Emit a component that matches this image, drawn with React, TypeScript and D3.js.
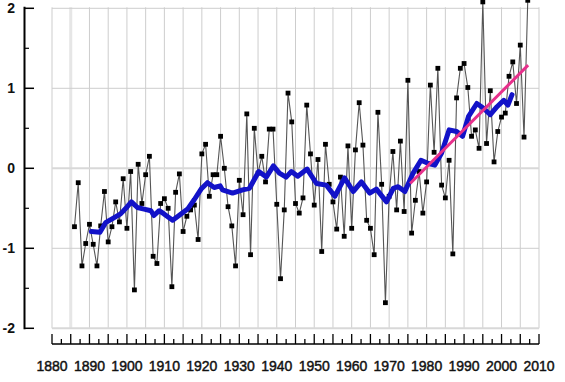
import React from 'react';
import * as d3 from 'd3';

const W = 565;
const H = 382;

const firstYear = 1886;
const annualValues = [
  -0.73, -0.18, -1.22, -0.94, -0.70, -0.95, -1.22, -0.72, -0.29, -0.92,
  -0.73, -0.42, -0.67, -0.13, -0.75, -0.04, -1.52, 0.05, -0.44, -0.08,
  0.15, -1.10, -1.19, -0.44, -0.38, -0.50, -1.48, -0.30, -0.07, -0.79,
  -0.60, -0.52, -0.46, -0.89, 0.18, 0.30, -0.35, -0.08, -0.08, 0.40,
  0.00, -0.48, -0.72, -1.22, -0.15, -0.58, 0.68, -1.08, 0.50, -0.06,
  0.15, -0.17, 0.49, 0.49, -0.45, -1.38, -0.52, 0.94, 0.58, -0.44,
  -0.56, -0.37, 0.79, 0.18, -0.46, 0.11, -1.04, 0.30, -0.20, -0.42,
  -0.76, -0.11, -0.85, 0.28, -0.75, 0.23, 0.82, 0.29, -0.65, -0.75,
  -1.08, 0.70, -0.20, -1.68, -0.35, 0.21, -0.52, 0.34, -0.54, 1.10,
  -0.81, -0.40, -0.04, -0.56, -0.17, 1.04, 0.20, 1.25, -0.21, -0.37,
  0.10, -1.07, 0.88, 1.25, 1.31, 1.01, 0.40, 0.48, 0.25, 2.08,
  0.31, 0.97, 0.08, 0.46, 0.64, 0.69, 1.15, 1.33, 0.81, 1.54,
  0.39, 2.10,
];

const smoothYears = [
  1890.5, 1892.8, 1894.3, 1896.5, 1898.3, 1900.1, 1901.2, 1902.8, 1904.6, 1906.4,
  1907.2, 1908.6, 1909.9, 1912.2, 1913.9, 1916.2, 1918.0, 1919.8, 1921.5, 1923.3,
  1924.9, 1925.5, 1928.2, 1930.9, 1932.7, 1935.2, 1937.2, 1939.1, 1940.7, 1942.5,
  1943.9, 1945.6, 1948.1, 1950.6, 1953.2, 1955.5, 1958.1, 1960.4, 1962.6, 1964.8,
  1966.6, 1969.3, 1971.1, 1972.4, 1974.2, 1976.4, 1978.5, 1980.5, 1982.2, 1984.0,
  1986.0, 1988.0, 1989.6, 1991.2, 1993.4, 1995.2, 1997.0, 1998.8, 2000.6, 2001.7,
  2002.8,
];
const smoothValues = [
  -0.79, -0.80, -0.68, -0.62, -0.57, -0.48, -0.42, -0.49, -0.51, -0.53,
  -0.59, -0.53, -0.57, -0.65, -0.59, -0.51, -0.39, -0.26, -0.18, -0.24,
  -0.22, -0.27, -0.31, -0.27, -0.25, -0.04, -0.11, 0.03, -0.06, -0.11,
  -0.04, -0.10, -0.01, -0.19, -0.21, -0.35, -0.12, -0.29, -0.17, -0.31,
  -0.26, -0.42, -0.25, -0.23, -0.29, -0.06, 0.10, 0.06, 0.04, 0.19,
  0.48, 0.46, 0.40, 0.65, 0.81, 0.75, 0.67, 0.77, 0.85, 0.79,
  0.92,
];

const trendYears = [1975.6, 2007.1];
const trendValues = [-0.19, 1.29];

const xTickLabels = [1880, 1890, 1900, 1910, 1920, 1930, 1940, 1950, 1960, 1970, 1980, 1990, 2000, 2010];
const yTickLabels = [2, 1, 0, -1, -2];

export default function App() {
  const x = d3.scaleLinear().domain([1880, 2010]).range([52, 539]);
  const y = d3.scaleLinear().domain([-2, 2]).range([328.3, 8.3]);

  const annual = annualValues.map((v, i) => ({ yr: firstYear + i, v }));
  const smooth = smoothYears.map((yr, i) => ({ yr, v: smoothValues[i] }));
  const trend = trendYears.map((yr, i) => ({ yr, v: trendValues[i] }));

  const line = d3
    .line<{ yr: number; v: number }>()
    .x((d) => x(d.yr))
    .y((d) => y(d.v));

  const gridYears = d3.range(1880, 2011, 5);
  const tickYears = d3.range(1880, 2010.1, 2.5);
  const yMinor = [1.5, 0.5, -0.5, -1.5];

  const axisY = 344;
  const [gx0, gx1] = x.range();
  const yTop = y(2) - 1;
  const yBot = y(-2);

  return (
    <svg
      width={W}
      height={H}
      style={{ position: 'absolute', left: 0, top: 0, background: '#fff' }}
      fontFamily="'Liberation Sans', Arial, sans-serif"
    >
      <rect x={0} y={0} width={W} height={H} fill="#fff" />
      {/* vertical grid */}
      {gridYears.map((yr) => (
        <line
          key={'gv' + yr}
          x1={x(yr)}
          x2={x(yr)}
          y1={yTop}
          y2={yBot}
          stroke={yr === 1885 ? '#e6e6e6' : '#cdcdcd'}
          strokeWidth={yr === 1885 ? 3 : 1}
        />
      ))}
      {/* horizontal grid */}
      {yTickLabels.map((v) => (
        <line
          key={'gh' + v}
          x1={gx0}
          x2={gx1}
          y1={y(v)}
          y2={y(v)}
          stroke={v === 0 || v === -2 ? '#d8d8d8' : '#cdcdcd'}
          strokeWidth={v === 0 || v === -2 ? 2 : 1}
        />
      ))}

      {/* left axis */}
      <line x1={24.5} x2={24.5} y1={y(2) - 1.5} y2={y(-2) + 1} stroke="#000" strokeWidth={2} />
      {yTickLabels.map((v) => (
        <line key={'yt' + v} x1={24} x2={34} y1={y(v)} y2={y(v)} stroke="#000" strokeWidth={1.5} />
      ))}
      {yMinor.map((v) => (
        <line key={'ym' + v} x1={24} x2={29} y1={y(v)} y2={y(v)} stroke="#000" strokeWidth={1.2} />
      ))}
      {yTickLabels.map((v) => (
        <text
          key={'yl' + v}
          x={15}
          y={y(v) + 5}
          textAnchor="end"
          fontSize={14}
          fontWeight="bold"
          fill="#111"
        >
          {v < 0 ? '-' + Math.abs(v) : String(v)}
        </text>
      ))}

      {/* bottom axis */}
      <line x1={gx0} x2={gx1} y1={axisY} y2={axisY} stroke="#000" strokeWidth={1.5} />
      {tickYears.map((yr, i) => (
        <line
          key={'xt' + i}
          x1={x(yr)}
          x2={x(yr)}
          y1={axisY}
          y2={axisY - (i % 2 === 0 ? 10 : 5)}
          stroke="#000"
          strokeWidth={1.3}
        />
      ))}
      {xTickLabels.map((yr) => (
        <text
          key={'xl' + yr}
          x={x(yr)}
          y={371}
          textAnchor="middle"
          fontSize={14}
          fill="#111"
          stroke="#111"
          strokeWidth={0.45}
        >
          {yr}
        </text>
      ))}

      {/* annual series */}
      <path d={line(annual) || ''} fill="none" stroke="#555" strokeWidth={1.1} />
      {annual.map((d) => (
        <rect key={'p' + d.yr} x={x(d.yr) - 2.4} y={y(d.v) - 2.4} width={4.8} height={4.8} fill="#000" />
      ))}

      {/* smoothed */}
      <path
        d={line(smooth) || ''}
        fill="none"
        stroke="#1212c8"
        strokeWidth={5}
        strokeLinejoin="round"
        strokeLinecap="round"
      />
      {/* trend */}
      <path d={line(trend) || ''} fill="none" stroke="#e8308c" strokeWidth={3} />
    </svg>
  );
}
